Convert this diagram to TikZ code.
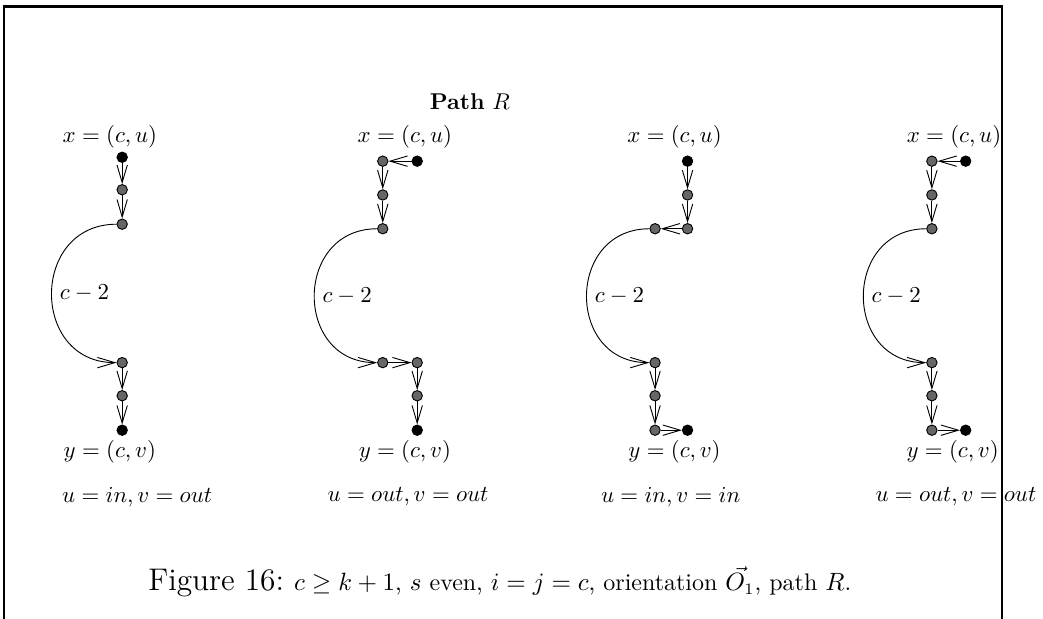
\documentclass[tikz,border=0pt]{standalone}
\usepackage{amsmath,amssymb}
\usepackage{tikz}
\usetikzlibrary{arrows.meta}

\begin{document}
\begin{tikzpicture}[
  vtx/.style={circle, draw=black, fill=black!60, minimum size=1.6mm, inner sep=0pt},
  endv/.style={vtx, fill=black},
  arr/.style={thin, -{Straight Barb[length=2.7mm,width=1.6mm]}},
  arc/.style={arr, looseness=1.6},
  lbl/.style={font=\normalsize, inner sep=1pt}
]
\useasboundingbox (0,0) rectangle (16.05,-9.52);

% frame
\draw[line width=0.9pt] (0.06,-9.52) -- (0.06,-0.1) -- (15.42,-0.1) -- (15.42,-9.52);

\node[lbl] (title) at (7.23,-1.57) {\textbf{Path} $R$};

% Panel 1
\node[endv] (a1) at (1.88,-2.42) {};
\node[vtx] (a2) at (1.88,-2.92) {};
\node[vtx] (a3) at (1.88,-3.45) {};
\node[vtx] (a4) at (1.88,-5.58) {};
\node[vtx] (a5) at (1.88,-6.09) {};
\node[endv] (a6) at (1.88,-6.62) {};

\node[lbl] (xa) at (1.69,-2.11) {$x=(c,u)$};
\node[lbl] (ya) at (1.69,-6.95) {$y=(c,v)$};
\node[lbl] (uva) at (2.11,-7.65) {$u=in, v=out$};

% Panel 2
\node[endv] (b0) at (6.42,-2.48) {};
\node[vtx] (b1) at (5.89,-2.48) {};
\node[vtx] (b2) at (5.89,-3.0) {};
\node[vtx] (b3) at (5.89,-3.52) {};
\node[vtx] (b4) at (5.89,-5.58) {};
\node[vtx] (b5) at (6.42,-5.58) {};
\node[vtx] (b6) at (6.42,-6.09) {};
\node[endv] (b7) at (6.42,-6.62) {};

\node[lbl] (xb) at (6.23,-2.11) {$x=(c,u)$};
\node[lbl] (yb) at (6.23,-6.95) {$y=(c,v)$};
\node[lbl] (uvb) at (6.28,-7.65) {$u=out, v=out$};

% Panel 3
\node[endv] (c1) at (10.58,-2.48) {};
\node[vtx] (c2) at (10.58,-3.0) {};
\node[vtx] (c3) at (10.58,-3.52) {};
\node[vtx] (c4) at (10.08,-3.52) {};
\node[vtx] (c5) at (10.08,-5.58) {};
\node[vtx] (c6) at (10.08,-6.09) {};
\node[vtx] (c7) at (10.08,-6.62) {};
\node[endv] (c8) at (10.58,-6.62) {};

\node[lbl] (xc) at (10.38,-2.11) {$x=(c,u)$};
\node[lbl] (yc) at (10.38,-6.95) {$y=(c,v)$};
\node[lbl] (uvc) at (10.32,-7.65) {$u=in, v=in$};

% Panel 4
\node[endv] (d0) at (14.86,-2.48) {};
\node[vtx] (d1) at (14.34,-2.48) {};
\node[vtx] (d2) at (14.34,-3.0) {};
\node[vtx] (d3) at (14.34,-3.52) {};
\node[vtx] (d4) at (14.34,-5.58) {};
\node[vtx] (d5) at (14.34,-6.09) {};
\node[vtx] (d6) at (14.34,-6.62) {};
\node[endv] (d7) at (14.86,-6.62) {};

\node[lbl] (xd) at (14.68,-2.11) {$x=(c,u)$};
\node[lbl] (yd) at (14.66,-6.95) {$y=(c,v)$};
\node[lbl] (uvd) at (14.71,-7.65) {$u=out, v=out$};

\node[lbl] (caption) at (7.69,-8.95) {{\fontsize{13.7}{16}\selectfont Figure 16:} \fontsize{10.5}{12.6}\selectfont $c\geq k+1$, $s$ even, $i=j=c$, orientation $\vec{O_1}$, path $R$.};

% Edges
\draw[arr] (a1) -- (a2);
\draw[arr] (a2) -- (a3);
\draw[arc] (a3) to[out=180,in=180] node[right]{$c-2$} (a4);
\draw[arr] (a4) -- (a5);
\draw[arr] (a5) -- (a6);

\draw[arr] (b0) -- (b1);
\draw[arr] (b1) -- (b2);
\draw[arr] (b2) -- (b3);
\draw[arc] (b3) to[out=180,in=180] node[right]{$c-2$} (b4);
\draw[arr] (b4) -- (b5);
\draw[arr] (b5) -- (b6);
\draw[arr] (b6) -- (b7);

\draw[arr] (c1) -- (c2);
\draw[arr] (c2) -- (c3);
\draw[arr] (c3) -- (c4);
\draw[arc] (c4) to[out=180,in=180] node[right]{$c-2$} (c5);
\draw[arr] (c5) -- (c6);
\draw[arr] (c6) -- (c7);
\draw[arr] (c7) -- (c8);

\draw[arr] (d0) -- (d1);
\draw[arr] (d1) -- (d2);
\draw[arr] (d2) -- (d3);
\draw[arc] (d3) to[out=180,in=180] node[right]{$c-2$} (d4);
\draw[arr] (d4) -- (d5);
\draw[arr] (d5) -- (d6);
\draw[arr] (d6) -- (d7);

\end{tikzpicture}
\end{document}
